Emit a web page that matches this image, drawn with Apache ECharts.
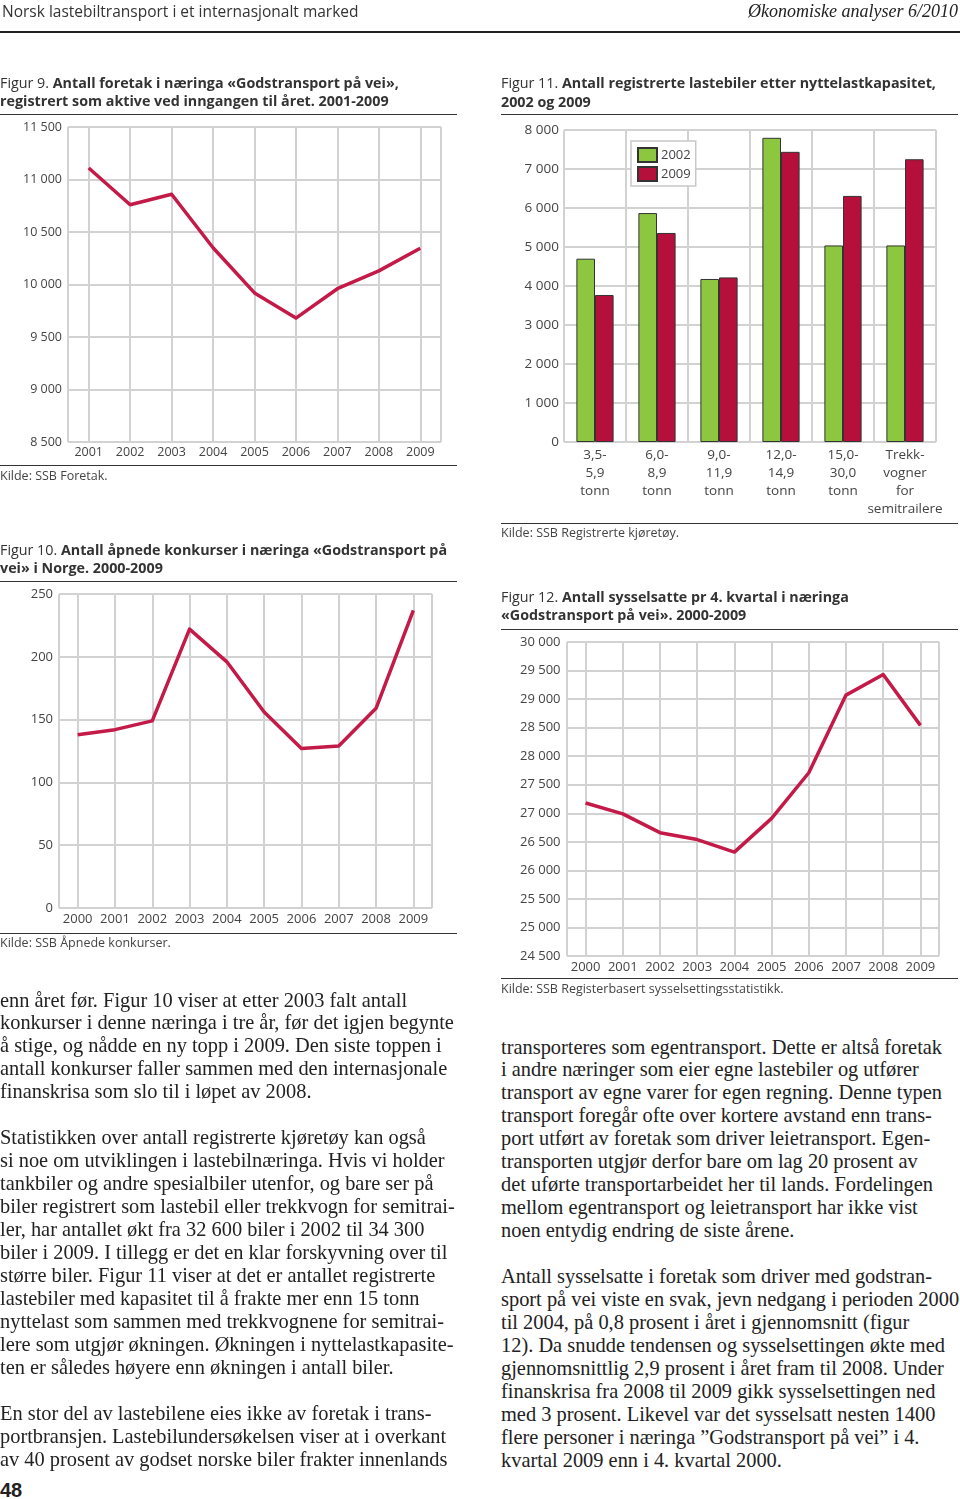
<!DOCTYPE html>
<html><head><meta charset="utf-8">
<script src="https://cdn.jsdelivr.net/npm/echarts@6/dist/echarts.min.js"></script>
<style>
html,body{margin:0;padding:0;background:#fff;}
#page{position:relative;width:960px;height:1499px;overflow:hidden;font-family:'Open Sans',sans-serif;color:#333;}
#chart{position:absolute;left:0;top:0;width:960px;height:1000px;}
.t{position:absolute;white-space:nowrap;}
.rule{position:absolute;height:0;border-top:1.5px solid #333;}
.title{font-size:14.3px;line-height:18.5px;color:#333;}
.title b{font-weight:700;}
.src{font-size:12.5px;line-height:16px;color:#444;}
.body{font-family:'Liberation Serif',serif;font-size:20.4px;line-height:22.95px;color:#222;}
</style></head>
<body>
<div id="page">
<div id="chart"></div>
<div class="t" style="left:2px;top:0px;font-size:15.5px;line-height:22px;color:#333;">Norsk lastebiltransport i et internasjonalt marked</div>
<div class="t" style="right:2px;top:0px;font-size:18px;line-height:22px;font-family:'Liberation Serif',serif;font-style:italic;color:#222;">Økonomiske analyser 6/2010</div>
<div class="t" style="left:0;top:31px;width:960px;height:2px;background:#222;"></div>

<div class="t title" style="left:0;top:73.75px;">Figur 9. <b>Antall foretak i næringa «Godstransport på vei»,</b><br><b>registrert som aktive ved inngangen til året. 2001-2009</b></div>
<div class="rule" style="left:0;top:114.3px;width:457px;"></div>
<div class="rule" style="left:0;top:465.3px;width:457px;"></div>
<div class="t src" style="left:0;top:468px;">Kilde: SSB Foretak.</div>

<div class="t title" style="left:0;top:540.75px;">Figur 10. <b>Antall åpnede konkurser i næringa «Godstransport på</b><br><b>vei» i Norge. 2000-2009</b></div>
<div class="rule" style="left:0;top:581.3px;width:457px;"></div>
<div class="rule" style="left:0;top:932.5px;width:457px;"></div>
<div class="t src" style="left:0;top:935px;">Kilde: SSB Åpnede konkurser.</div>

<div class="t title" style="left:501px;top:74px;">Figur 11. <b>Antall registrerte lastebiler etter nyttelastkapasitet,</b><br><b>2002 og 2009</b></div>
<div class="rule" style="left:501px;top:113.6px;width:457px;"></div>
<div class="rule" style="left:501px;top:522.6px;width:457px;"></div>
<div class="t src" style="left:501px;top:525.3px;">Kilde: SSB Registrerte kjøretøy.</div>

<div class="t title" style="left:501px;top:587.5px;">Figur 12. <b>Antall sysselsatte pr 4. kvartal i næringa</b><br><b>«Godstransport på vei». 2000-2009</b></div>
<div class="rule" style="left:501px;top:628.6px;width:457px;"></div>
<div class="rule" style="left:501px;top:978.3px;width:457px;"></div>
<div class="t src" style="left:501px;top:981.3px;">Kilde: SSB Registerbasert sysselsettingsstatistikk.</div>

<div class="t body" style="left:0;top:988.5px;">enn året før. Figur 10 viser at etter 2003 falt antall<br>konkurser i denne næringa i tre år, før det igjen begynte<br>å stige, og nådde en ny topp i 2009. Den siste toppen i<br>antall konkurser faller sammen med den internasjonale<br>finanskrisa som slo til i løpet av 2008.<br>&nbsp;<br>Statistikken over antall registrerte kjøretøy kan også<br>si noe om utviklingen i lastebilnæringa. Hvis vi holder<br>tankbiler og andre spesialbiler utenfor, og bare ser på<br>biler registrert som lastebil eller trekkvogn for semitrai-<br>ler, har antallet økt fra 32 600 biler i 2002 til 34 300<br>biler i 2009. I tillegg er det en klar forskyvning over til<br>større biler. Figur 11 viser at det er antallet registrerte<br>lastebiler med kapasitet til å frakte mer enn 15 tonn<br>nyttelast som sammen med trekkvognene for semitrai-<br>lere som utgjør økningen. Økningen i nyttelastkapasite-<br>ten er således høyere enn økningen i antall biler.<br>&nbsp;<br>En stor del av lastebilene eies ikke av foretak i trans-<br>portbransjen. Lastebilundersøkelsen viser at i overkant<br>av 40 prosent av godset norske biler frakter innenlands</div>

<div class="t body" style="left:501px;top:1035.5px;">transporteres som egentransport. Dette er altså foretak<br>i andre næringer som eier egne lastebiler og utfører<br>transport av egne varer for egen regning. Denne typen<br>transport foregår ofte over kortere avstand enn trans-<br>port utført av foretak som driver leietransport. Egen-<br>transporten utgjør derfor bare om lag 20 prosent av<br>det uførte transportarbeidet her til lands. Fordelingen<br>mellom egentransport og leietransport har ikke vist<br>noen entydig endring de siste årene.<br>&nbsp;<br>Antall sysselsatte i foretak som driver med godstran-<br>sport på vei viste en svak, jevn nedgang i perioden 2000<br>til 2004, på 0,8 prosent i året i gjennomsnitt (figur<br>12). Da snudde tendensen og sysselsettingen økte med<br>gjennomsnittlig 2,9 prosent i året fram til 2008. Under<br>finanskrisa fra 2008 til 2009 gikk sysselsettingen ned<br>med 3 prosent. Likevel var det sysselsatt nesten 1400<br>flere personer i næringa ”Godstransport på vei” i 4.<br>kvartal 2009 enn i 4. kvartal 2000.</div>

<div class="t" style="left:0;top:1478px;font-family:'Liberation Sans',sans-serif;font-weight:bold;font-size:20px;line-height:24px;color:#222;">48</div>
</div>

<script>
// ---- Data ----
const fig9Years = [2001, 2002, 2003, 2004, 2005, 2006, 2007, 2008, 2009];
const fig9Values = [11110, 10760, 10860, 10350, 9920, 9680, 9960, 10130, 10345];
const fig9YRange = [8500, 11500, 500];

const fig10Years = [2000, 2001, 2002, 2003, 2004, 2005, 2006, 2007, 2008, 2009];
const fig10Values = [138, 142, 149, 222, 196, 156, 127, 129, 159, 237];
const fig10YRange = [0, 250, 50];

const fig11Categories = ['3,5-\n5,9\ntonn', '6,0-\n8,9\ntonn', '9,0-\n11,9\ntonn', '12,0-\n14,9\ntonn', '15,0-\n30,0\ntonn', 'Trekk-\nvogner\nfor\nsemitrailere'];
const fig11Series = ['2002', '2009'];
const fig11Values2002 = [4700, 5870, 4180, 7800, 5040, 5040];
const fig11Values2009 = [3770, 5360, 4220, 7440, 6310, 7250];
const fig11YRange = [0, 8000, 1000];

const fig12Years = [2000, 2001, 2002, 2003, 2004, 2005, 2006, 2007, 2008, 2009];
const fig12Values = [27180, 26990, 26660, 26540, 26320, 26910, 27710, 29070, 29430, 28540];
const fig12YRange = [24500, 30000, 500];

// ---- Styles ----
const FONT = "'Open Sans', sans-serif";
const GRID = '#d2d2d2';
const LABEL = '#444';
const LINE_RED = '#c41a48';
const BAR_GREEN = '#8dc63f';
const BAR_RED = '#b5103c';

function fmt(v) { return String(v).replace(/\B(?=(\d{3})+(?!\d))/g, ' '); }

function yearAxis(gi, years, fs, margin) {
  return {
    type: 'value', gridIndex: gi,
    min: years[0] - 0.5, max: years[years.length - 1] + 0.5,
    minInterval: 1, maxInterval: 1,
    axisLine: { show: false }, axisTick: { show: false },
    splitLine: { show: true, lineStyle: { color: GRID, width: 2 } },
    axisLabel: { color: LABEL, fontSize: fs, fontFamily: FONT, margin: margin,
      formatter: v => Number.isInteger(v) ? String(v) : '' }
  };
}
function valAxis(gi, r, fs, margin) {
  return {
    type: 'value', gridIndex: gi, min: r[0], max: r[1], interval: r[2],
    axisLine: { show: false }, axisTick: { show: false },
    splitLine: { show: true, lineStyle: { color: GRID, width: 2 } },
    axisLabel: { color: LABEL, fontSize: fs, fontFamily: FONT, margin: margin, formatter: fmt }
  };
}
function lineSeries(idx, years, vals) {
  return {
    type: 'line', xAxisIndex: idx, yAxisIndex: idx,
    data: years.map((y, i) => [y, vals[i]]),
    symbol: 'none', silent: true,
    lineStyle: { color: LINE_RED, width: 3.5, join: 'round' }
  };
}

const chart = echarts.init(document.getElementById('chart'), null, { renderer: 'canvas' });
chart.setOption({
  animation: false,
  textStyle: { fontFamily: FONT },
  grid: [
    { left: 68, top: 127, width: 373, height: 315 },
    { left: 59, top: 594, width: 373, height: 314 },
    { left: 564, top: 130, width: 372, height: 312 },
    { left: 567, top: 642, width: 372, height: 314 }
  ],
  legend: {
    show: true, data: fig11Series, orient: 'vertical', icon: 'rect',
    left: 631, top: 141, itemWidth: 19, itemHeight: 14, itemGap: 3,
    padding: [6, 5, 4, 6], borderColor: '#c8c8c8', borderWidth: 1.5, backgroundColor: '#fff',
    textStyle: { fontSize: 13, color: LABEL, fontFamily: FONT, padding: [0, 0, 0, -1] }
  },
  xAxis: [
    yearAxis(0, fig9Years, 12.5, 4),
    yearAxis(1, fig10Years, 13, 4.5),
    {
      type: 'category', gridIndex: 2, data: fig11Categories,
      axisLine: { show: false }, axisTick: { show: false },
      splitLine: { show: true, lineStyle: { color: GRID, width: 2 } },
      axisLabel: { color: LABEL, fontSize: 13.5, lineHeight: 18, fontFamily: FONT, margin: 4, interval: 0 }
    },
    yearAxis(3, fig12Years, 13, 4.5)
  ],
  yAxis: [
    valAxis(0, fig9YRange, 12.5, 6),
    valAxis(1, fig10YRange, 13, 6),
    valAxis(2, fig11YRange, 13.5, 5),
    valAxis(3, fig12YRange, 13, 6.5)
  ],
  series: [
    lineSeries(0, fig9Years, fig9Values),
    lineSeries(1, fig10Years, fig10Values),
    {
      name: fig11Series[0], type: 'bar', xAxisIndex: 2, yAxisIndex: 2, data: fig11Values2002,
      barGap: '0%', barCategoryGap: '40%', silent: true,
      itemStyle: { color: BAR_GREEN, borderColor: '#333', borderWidth: 1 }
    },
    {
      name: fig11Series[1], type: 'bar', xAxisIndex: 2, yAxisIndex: 2, data: fig11Values2009,
      barGap: '0%', barCategoryGap: '40%', silent: true,
      itemStyle: { color: BAR_RED, borderColor: '#333', borderWidth: 1 }
    },
    lineSeries(3, fig12Years, fig12Values)
  ]
});
</script>
</body></html>
